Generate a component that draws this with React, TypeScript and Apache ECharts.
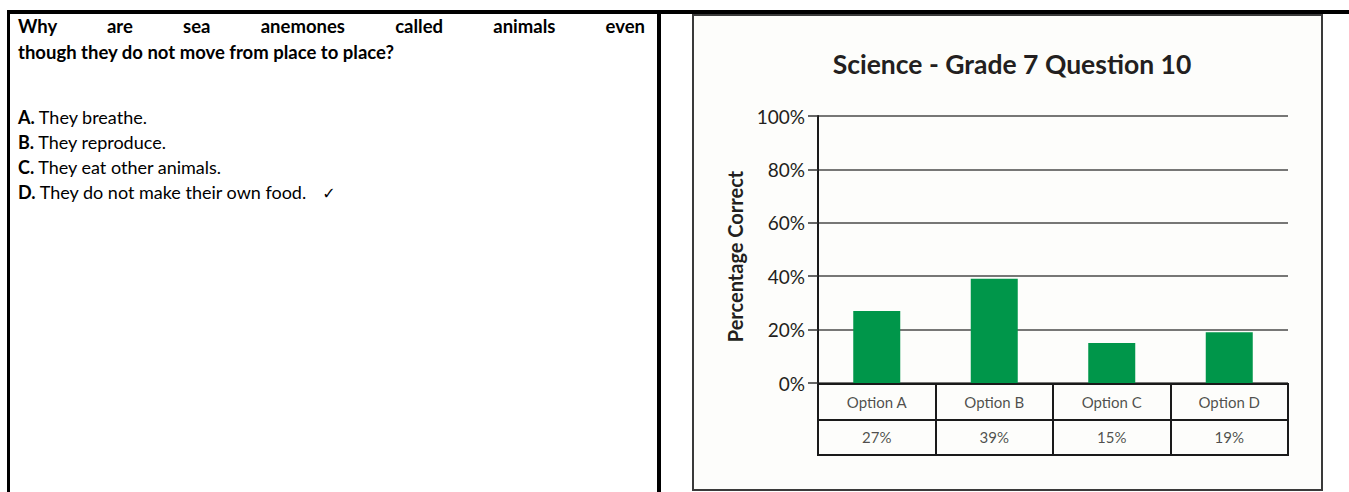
import React, { useEffect, useRef } from "react";
import * as echarts from "echarts";

const categories = ["Option A", "Option B", "Option C", "Option D"];
const percentCorrect = [27, 39, 15, 19];
const tableRows = ["name", "value"];
const yTicks = [0, 20, 40, 60, 80, 100];

const questionLine1 = "Why are sea anemones called animals even";
const questionLine2 = "though they do not move from place to place?";
const optionLetters = ["A.", "B.", "C.", "D."];
const optionTexts = [
  "They breathe.",
  "They reproduce.",
  "They eat other animals.",
  "They do not make their own food.",
];
const correctIndex = 3;

const GILL = "Lato, 'Open Sans', sans-serif";
const CAL = "Lato, 'Noto Sans', sans-serif";

function Chart() {
  const ref = useRef<HTMLDivElement>(null);
  useEffect(() => {
    if (!ref.current) return;
    const chart = echarts.init(ref.current, null, { renderer: "svg" });
    const tableData: any[] = [];
    categories.forEach((c, i) => {
      tableData.push({ value: [c, tableRows[0]], text: c });
      tableData.push({ value: [c, tableRows[1]], text: percentCorrect[i] + "%" });
    });
    chart.setOption({
      animation: false,
      graphic: [
        {
          type: "rect",
          shape: { x: 693, y: 15, width: 629, height: 475 },
          style: { fill: "#fdfdfb", stroke: "#3a3a3a", lineWidth: 2 },
          z: -10,
        },
      ],
      title: {
        text: "Science - Grade 7 Question 10",
        left: 1007,
        top: 45,
        textAlign: "center",
        textStyle: {
          fontFamily: GILL,
          fontWeight: "bold",
          fontSize: 26.5,
          color: "#231f20",
        },
      },
      grid: [
        { left: 818, top: 116, width: 470, height: 267 },
        {
          left: 818,
          top: 384,
          width: 470,
          height: 71,
          show: true,
          borderColor: "#1a1a1a",
          borderWidth: 2,
          backgroundColor: "transparent",
        },
      ],
      xAxis: [
        {
          type: "category",
          gridIndex: 0,
          data: categories,
          axisLine: { show: false },
          axisTick: { show: false },
          axisLabel: { show: false },
          splitLine: { show: false },
        },
        {
          type: "category",
          gridIndex: 1,
          data: categories,
          axisLine: { show: false },
          axisTick: { show: false },
          axisLabel: { show: false },
          splitLine: { show: true, lineStyle: { color: "#1a1a1a", width: 2 } },
        },
      ],
      yAxis: [
        {
          type: "value",
          gridIndex: 0,
          min: yTicks[0],
          max: yTicks[yTicks.length - 1],
          interval: 20,
          name: "Percentage Correct",
          nameLocation: "middle",
          nameRotate: 90,
          nameGap: 73,
          nameTextStyle: {
            fontFamily: GILL,
            fontWeight: "bold",
            fontSize: 20,
            color: "#231f20",
            padding: [0, 14, 0, 0],
          },
          axisLine: { show: true, lineStyle: { color: "#1a1a1a", width: 2 } },
          axisTick: { show: true, length: 10, lineStyle: { color: "#333", width: 1.5 } },
          axisLabel: {
            formatter: "{value}%",
            margin: 13,
            fontFamily: GILL,
            fontSize: 19,
            color: "#231f20",
          },
          splitLine: { show: true, lineStyle: { color: "#4a4a4a", width: 1.5 } },
        },
        {
          type: "category",
          gridIndex: 1,
          data: tableRows,
          inverse: true,
          axisLine: { show: false },
          axisTick: { show: false },
          axisLabel: { show: false },
          splitLine: { show: true, lineStyle: { color: "#1a1a1a", width: 2 } },
        },
      ],
      series: [
        {
          type: "bar",
          xAxisIndex: 0,
          yAxisIndex: 0,
          data: percentCorrect,
          barWidth: 47,
          itemStyle: { color: "#00964a" },
        },
        {
          type: "scatter",
          xAxisIndex: 1,
          yAxisIndex: 1,
          symbolSize: 0,
          data: tableData,
          label: {
            show: true,
            position: "inside",
            formatter: (p: any) => p.data.text,
            fontFamily: GILL,
            fontSize: 15,
            color: "#231f20",
          },
        },
      ],
    });
    return () => chart.dispose();
  }, []);
  return (
    <div
      ref={ref}
      style={{ position: "absolute", left: 0, top: 0, width: 1349, height: 492 }}
    />
  );
}

export default function App() {
  const optTops = [105, 130, 155, 180];
  return (
    <div
      style={{
        position: "absolute",
        left: 0,
        top: 0,
        width: 1349,
        height: 492,
        background: "#ffffff",
        overflow: "hidden",
        fontFamily: CAL,
        color: "#000",
      }}
    >
      <Chart />
      <div style={{ position: "absolute", left: 7, top: 10, width: 1342, height: 4, background: "#000" }} />
      <div style={{ position: "absolute", left: 7, top: 10, width: 3, height: 482, background: "#000" }} />
      <div style={{ position: "absolute", left: 657, top: 10, width: 4, height: 482, background: "#000" }} />
      <div
        style={{
          position: "absolute",
          left: 18,
          top: 14,
          width: 627,
          fontWeight: "bold",
          fontSize: 18.5,
          lineHeight: "24px",
          textAlign: "justify",
          textAlignLast: "justify" as any,
          whiteSpace: "nowrap",
        }}
      >
        {questionLine1}
      </div>
      <div
        style={{
          position: "absolute",
          left: 18,
          top: 40,
          fontWeight: "bold",
          fontSize: 18.5,
          lineHeight: "24px",
          whiteSpace: "nowrap",
        }}
      >
        {questionLine2}
      </div>
      {optionLetters.map((l, i) => (
        <div
          key={l}
          style={{
            position: "absolute",
            left: 18,
            top: optTops[i],
            fontSize: 18,
            lineHeight: "24px",
            whiteSpace: "nowrap",
          }}
        >
          <b>{l}</b> {optionTexts[i]}
          {i === correctIndex ? (
            <span style={{ fontFamily: "'DejaVu Sans'", fontSize: 16, marginLeft: 16 }}>✓</span>
          ) : null}
        </div>
      ))}
    </div>
  );
}
